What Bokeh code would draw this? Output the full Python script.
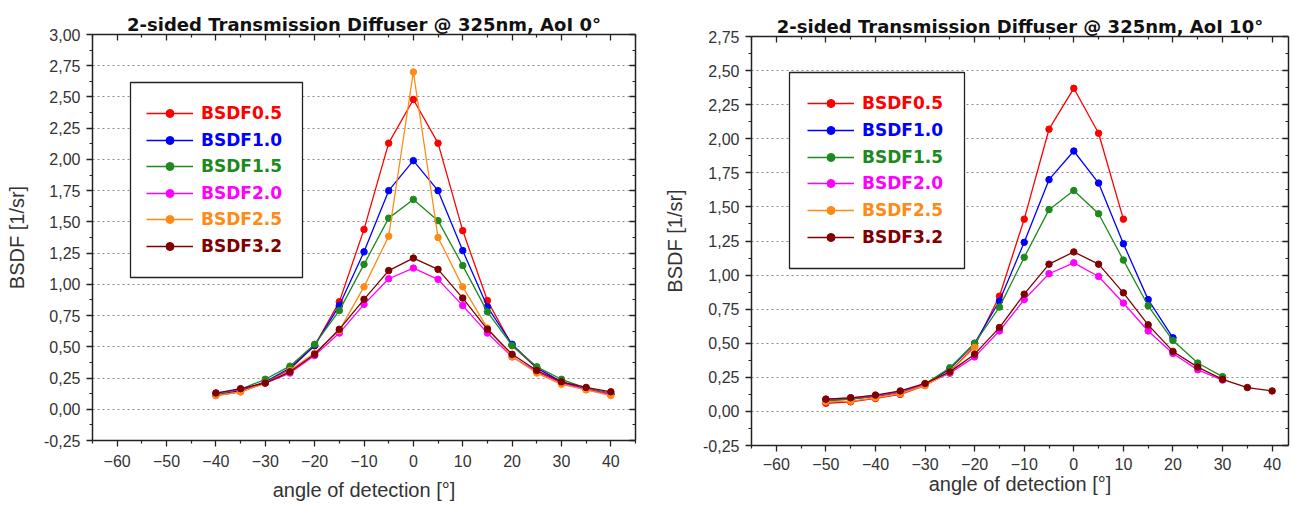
import math
from bokeh.plotting import figure
from bokeh.models import (LinearAxis, FixedTicker, CustomJSTickFormatter, Legend,
                          LegendItem, BoxAnnotation, Range1d)
from bokeh.layouts import row
from bokeh.embed import file_html
from bokeh.resources import INLINE

NaN = float("nan")

# ---------------- data ----------------
series_names = ["BSDF0.5", "BSDF1.0", "BSDF1.5", "BSDF2.0", "BSDF2.5", "BSDF3.2"]
series_colors = ["#ff0000", "#0000ff", "#1e8a1e", "#ff00ff", "#ff8a14", "#800000"]

x_tick_values = [-60, -50, -40, -30, -20, -10, 0, 10, 20, 30, 40]
x_minor_values = [-65, -55, -45, -35, -25, -15, -5, 5, 15, 25, 35, 45]

x_label = "angle of detection [°]"
y_label = "BSDF [1/sr]"

# Left chart: AoI 0°
left_title = "2-sided Transmission Diffuser @ 325nm, AoI 0°"
left_y_ticks = [-0.25, 0.0, 0.25, 0.5, 0.75, 1.0, 1.25, 1.5, 1.75, 2.0, 2.25, 2.5, 2.75, 3.0]
left_angles = [-40, -35, -30, -25, -20, -15, -10, -5, 0, 5, 10, 15, 20, 25, 30, 35, 40]
left_bsdf05 = [0.11, 0.14, 0.21, 0.32, 0.51, 0.86, 1.44, 2.13, 2.48, 2.13, 1.43, 0.87, 0.51, 0.33, 0.22, 0.16, 0.12]
left_bsdf10 = [0.12, 0.15, 0.22, 0.33, 0.51, 0.83, 1.26, 1.75, 1.99, 1.75, 1.27, 0.82, 0.52, 0.33, 0.22, 0.16, 0.12]
left_bsdf15 = [0.12, 0.16, 0.24, 0.345, 0.52, 0.79, 1.16, 1.53, 1.68, 1.51, 1.15, 0.78, 0.51, 0.34, 0.24, 0.17, 0.13]
left_bsdf20 = [0.13, 0.16, 0.21, 0.29, 0.43, 0.61, 0.84, 1.045, 1.13, 1.04, 0.83, 0.61, 0.42, 0.30, 0.21, 0.16, 0.12]
left_bsdf25 = [0.11, 0.14, 0.21, 0.31, 0.45, 0.63, 0.98, 1.385, 2.70, 1.375, 0.98, 0.65, 0.42, 0.29, 0.20, 0.155, 0.11]
left_bsdf32 = [0.13, 0.165, 0.21, 0.30, 0.44, 0.64, 0.88, 1.11, 1.21, 1.12, 0.89, 0.64, 0.44, 0.31, 0.22, 0.175, 0.14]

# Right chart: AoI 10°
right_title = "2-sided Transmission Diffuser @ 325nm, AoI 10°"
right_y_ticks = [-0.25, 0.0, 0.25, 0.5, 0.75, 1.0, 1.25, 1.5, 1.75, 2.0, 2.25, 2.5, 2.75]
right_angles = [-50, -45, -40, -35, -30, -25, -20, -15, -10, -5, 0, 5, 10, 15, 20, 25, 30, 35, 40]
right_bsdf05 = [0.06, 0.07, 0.095, 0.125, 0.19, 0.29, 0.48, 0.845, 1.41, 2.07, 2.37, 2.04, 1.41,
                NaN, NaN, NaN, NaN, NaN, NaN]
right_bsdf10 = [0.08, 0.09, 0.11, 0.14, 0.20, 0.31, 0.50, 0.81, 1.24, 1.70, 1.91, 1.675, 1.23, 0.82, 0.54,
                NaN, NaN, NaN, NaN]
right_bsdf15 = [0.08, 0.09, 0.11, 0.14, 0.20, 0.32, 0.50, 0.765, 1.13, 1.48, 1.62, 1.45, 1.11, 0.775, 0.52, 0.355, 0.255,
                NaN, NaN]
right_bsdf20 = [0.09, 0.10, 0.115, 0.145, 0.20, 0.28, 0.40, 0.59, 0.82, 1.01, 1.09, 0.99, 0.795, 0.59, 0.425, 0.305, 0.23,
                NaN, NaN]
right_bsdf25 = [0.07, 0.075, 0.10, 0.13, 0.19, 0.29, 0.47,
                NaN, NaN, NaN, NaN, NaN, NaN, NaN, NaN, NaN, NaN, NaN, NaN]
right_bsdf32 = [0.09, 0.10, 0.12, 0.15, 0.205, 0.29, 0.42, 0.615, 0.86, 1.08, 1.17, 1.08, 0.87, 0.635, 0.44, 0.325, 0.235, 0.175, 0.15]

FONT = "Liberation Sans"
BOLD_FONT = "DejaVu Sans"
AXIS_COLOR = "#222222"
TEXT_COLOR = "#333333"
FIG_HEIGHT = 508


def style_main_axis(ax, label_standoff, axis_label_standoff):
    ax.axis_line_color = AXIS_COLOR
    ax.axis_line_width = 1.5
    ax.major_tick_line_color = AXIS_COLOR
    ax.minor_tick_line_color = AXIS_COLOR
    ax.major_tick_line_width = 1.3
    ax.minor_tick_line_width = 1.2
    ax.major_tick_out = 6
    ax.major_tick_in = 0
    ax.minor_tick_out = 3
    ax.minor_tick_in = 0
    ax.major_label_text_font = FONT
    ax.major_label_text_font_size = "16px"
    ax.major_label_text_color = TEXT_COLOR
    ax.major_label_standoff = label_standoff
    ax.axis_label_text_font = FONT
    ax.axis_label_text_font_size = "20px"
    ax.axis_label_text_font_style = "normal"
    ax.axis_label_text_color = TEXT_COLOR
    ax.axis_label_standoff = axis_label_standoff


def mirror_axis(ticker):
    ax = LinearAxis(ticker=ticker,
                    formatter=CustomJSTickFormatter(code="return '';"),
                    major_label_text_font_size="0px",
                    major_label_standoff=0,
                    major_tick_in=6, major_tick_out=0,
                    minor_tick_in=3, minor_tick_out=0,
                    axis_line_color=AXIS_COLOR, axis_line_width=1.5,
                    major_tick_line_color=AXIS_COLOR, minor_tick_line_color=AXIS_COLOR,
                    major_tick_line_width=1.3, minor_tick_line_width=1.2)
    return ax


def make_chart(title, angles, values, y_ticks, x_end, width, b_left, b_right, b_top, b_bottom,
               box, row_centers, glyph_left, y_lab_standoff, x_tick_standoff, x_lab_standoff):
    p = figure(width=width, height=FIG_HEIGHT,
               x_range=Range1d(-65, x_end), y_range=Range1d(y_ticks[0], y_ticks[-1]),
               output_backend="svg", toolbar_location=None,
               min_border_left=b_left, min_border_right=b_right,
               min_border_top=b_top, min_border_bottom=b_bottom,
               x_axis_label=x_label, y_axis_label=y_label)
    p.frame_align = False
    p.outline_line_color = None
    p.background_fill_color = "white"
    p.border_fill_color = "white"

    p.title.text = title
    p.title.align = "center"
    p.title.text_font = BOLD_FONT
    p.title.text_font_size = "18px"
    p.title.text_font_style = "bold"
    p.title.text_color = "#111111"
    p.title.text_line_height = 1.0
    p.title.standoff = 0

    y_minor = [(a + b) / 2 for a, b in zip(y_ticks[:-1], y_ticks[1:])]
    xt = FixedTicker(ticks=x_tick_values, minor_ticks=x_minor_values)
    yt = FixedTicker(ticks=y_ticks, minor_ticks=y_minor)

    p.xaxis[0].ticker = xt
    p.yaxis[0].ticker = yt
    p.yaxis[0].formatter = CustomJSTickFormatter(code="return tick.toFixed(2).replace('.', ',');")
    style_main_axis(p.xaxis[0], x_tick_standoff, x_lab_standoff)
    style_main_axis(p.yaxis[0], 6, y_lab_standoff)

    p.add_layout(mirror_axis(FixedTicker(ticks=x_tick_values, minor_ticks=x_minor_values)), "above")
    p.add_layout(mirror_axis(FixedTicker(ticks=y_ticks, minor_ticks=y_minor)), "right")

    p.xgrid.visible = False
    p.ygrid.ticker = FixedTicker(ticks=[t for t in y_ticks if t >= 0][:-1])
    p.ygrid.grid_line_color = "#8a8a8a"
    p.ygrid.grid_line_dash = "2 3"
    p.ygrid.grid_line_width = 1.2

    renderers = []
    for vals, col in zip(values, series_colors):
        ln = p.line(angles, vals, line_color=col, line_width=1.3)
        sc = p.scatter(angles, vals, marker="circle", size=6.5, fill_color=col, line_color=col)
        renderers.append((ln, sc))

    # legend frame
    p.add_layout(BoxAnnotation(left=box[0], right=box[1], bottom=box[2], top=box[3],
                               left_units="screen", right_units="screen",
                               bottom_units="screen", top_units="screen",
                               fill_color="white", fill_alpha=1.0,
                               line_color=AXIS_COLOR, line_width=1.3, line_alpha=1.0))
    for (ln, sc), name, col, cy in zip(renderers, series_names, series_colors, row_centers):
        leg = Legend(items=[LegendItem(label=name, renderers=[ln, sc])],
                     location=(glyph_left, cy - 10),
                     border_line_alpha=0, background_fill_alpha=0,
                     padding=0, margin=0, spacing=0,
                     glyph_width=47, glyph_height=20, label_height=20,
                     label_standoff=8,
                     label_text_font=BOLD_FONT, label_text_font_style="bold",
                     label_text_font_size="17px", label_text_color=col,
                     label_text_baseline="middle")
        p.add_layout(leg)
    return p


left = make_chart(left_title, left_angles,
                  [left_bsdf05, left_bsdf10, left_bsdf15, left_bsdf20, left_bsdf25, left_bsdf32],
                  left_y_ticks, 45, 640, 92, 5, 34, FIG_HEIGHT - 440,
                  (38, 210, 163, 358), [327, 300.5, 274, 247, 221, 194], 54, 13, 8, 9)

right = make_chart(right_title, right_angles,
                   [right_bsdf05, right_bsdf10, right_bsdf15, right_bsdf20, right_bsdf25, right_bsdf32],
                   right_y_ticks, 43.3, 650, 111, 2, 36, FIG_HEIGHT - 445,
                   (38, 213, 177, 373), [342, 315, 288, 262, 235, 208], 56, 14, 6, 0)

layout = row(left, right)
open("out.html", "w").write(file_html(layout, INLINE))
